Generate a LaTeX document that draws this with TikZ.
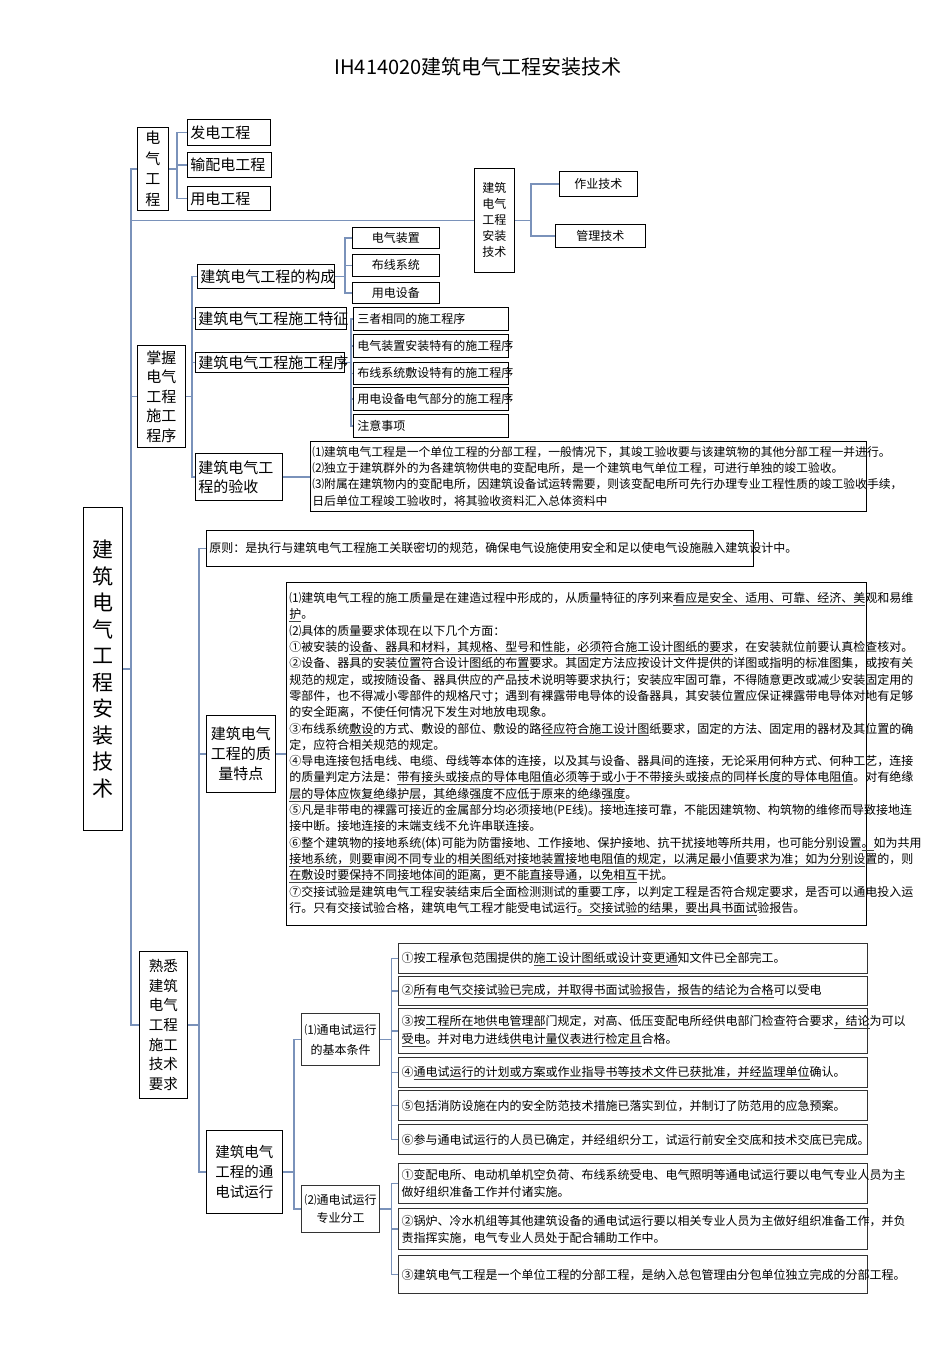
\documentclass[tikz,border=0pt]{standalone}
\usepackage{fontspec}
\setmainfont{Noto Sans CJK SC}
\definecolor{linkblue}{RGB}{122,146,186}
\newsavebox{\ulbox}
\newcommand{\uln}[1]{\leavevmode\sbox{\ulbox}{#1}\rlap{\color{black!75}\rule[-3pt]{\wd\ulbox}{0.6pt}}\usebox{\ulbox}}
\newcommand{\fsz}[2]{\fontsize{#1}{#2}\selectfont}

\begin{document}
\begin{tikzpicture}[x=1pt,y=-1pt]
	\tikzset{every node/.style={inner sep=0pt}}
	\tikzset{box/.style={draw, line width=0.8pt, anchor=north west, inner xsep=3pt, inner ysep=0pt}}
	\tikzset{heavybox/.style={box, draw=black!80, line width=1.3pt}}
	\tikzset{link/.style={draw=linkblue, line width=1.4pt}}
	\useasboundingbox (0,0) rectangle (950,1345);
	\fill[white] (0,0) rectangle (950,1345);

	\node[font=\fsz{20}{24}] (title) at (478,67) {IH414020建筑电气工程安装技术};

	\node[box, inner xsep=0pt, text width=39, minimum height=323, align=center, font=\fsz{21}{26.5}] (root) at (83,507) {建\\筑\\电\\气\\工\\程\\安\\装\\技\\术};

	\node[box, inner xsep=0pt, text width=31, minimum height=83, align=center, font=\fsz{15}{20.5}] (dqgc) at (137,127) {电\\气\\工\\程};
	\node[box, text width=77, minimum height=26, align=left, font=\fsz{15}{18}] (fd) at (187,119) {发电工程};
	\node[box, text width=78, minimum height=25, align=left, font=\fsz{15}{18}] (spd) at (187,152) {输配电工程};
	\node[box, text width=77, minimum height=24, align=left, font=\fsz{15}{18}] (yd) at (187,186) {用电工程};

	\node[box, inner xsep=0pt, text width=40, minimum height=104, align=center, font=\fsz{12}{16}] (azjs) at (474,168) {建筑\\电气\\工程\\安装\\技术};
	\node[box, inner xsep=0pt, text width=78, minimum height=25, align=center, font=\fsz{12}{15}] (zyjs) at (559,171) {作业技术};
	\node[box, inner xsep=0pt, text width=90, minimum height=23, align=center, font=\fsz{12}{15}] (gljs) at (555,224) {管理技术};

	\node[box, inner xsep=0pt, text width=48, minimum height=102, align=center, font=\fsz{15}{19.5}] (zw) at (137,345) {掌握\\电气\\工程\\施工\\程序};
	\node[box, text width=131, minimum height=24, align=left, font=\fsz{15}{18}] (gc) at (197,264) {建筑电气工程的构成};
	\node[box, text width=145, minimum height=22, align=left, font=\fsz{15}{18}] (tz) at (195,307) {建筑电气工程施工特征};
	\node[box, text width=143, minimum height=20, align=left, font=\fsz{15}{18}] (cx) at (195,352) {建筑电气工程施工程序};
	\node[box, text width=81, minimum height=47, align=left, font=\fsz{15}{19}] (ys) at (195,453) {建筑电气工\\程的验收};

	\node[box, inner xsep=0pt, text width=87, minimum height=21, align=center, font=\fsz{12}{15}] (dqzz) at (352,227) {电气装置};
	\node[box, inner xsep=0pt, text width=87, minimum height=22, align=center, font=\fsz{12}{15}] (bxxt) at (352,254) {布线系统};
	\node[box, inner xsep=0pt, text width=87, minimum height=21, align=center, font=\fsz{12}{15}] (ydsb) at (352,282) {用电设备};

	\node[box, inner xsep=4pt, text width=147, minimum height=23, align=left, font=\fsz{12}{15}] (sz) at (353,307) {三者相同的施工程序};
	\node[box, inner xsep=4pt, text width=147, minimum height=23, align=left, font=\fsz{12}{15}] (dqaz) at (353,334) {电气装置安装特有的施工程序};
	\node[box, inner xsep=4pt, text width=147, minimum height=22, align=left, font=\fsz{12}{15}] (bxfs) at (353,362) {布线系统敷设特有的施工程序};
	\node[box, inner xsep=4pt, text width=147, minimum height=23, align=left, font=\fsz{12}{15}] (ydbf) at (353,387) {用电设备电气部分的施工程序};
	\node[box, inner xsep=4pt, text width=147, minimum height=23, align=left, font=\fsz{12}{15}] (zysx) at (353,414) {注意事项};

	\node[box, inner xsep=2pt, text width=552, minimum height=70, align=left, font=\fsz{11.8}{16.3}] (ystext) at (310,441) {⑴建筑电气工程是一个单位工程的分部工程，一般情况下，其竣工验收要与该建筑物的其他分部工程一并进行。\\⑵独立于建筑群外的为各建筑物供电的变配电所，是一个建筑电气单位工程，可进行单独的竣工验收。\\⑶附属在建筑物内的变配电所，因建筑设备试运转需要，则该变配电所可先行办理专业工程性质的竣工验收手续，\\日后单位工程竣工验收时，将其验收资料汇入总体资料中};

	\node[box, inner xsep=0pt, text width=48, minimum height=147, align=center, font=\fsz{14.5}{19.7}] (sx) at (139,951) {熟悉\\建筑\\电气\\工程\\施工\\技术\\要求};

	\node[box, text width=541, minimum height=36, align=left, font=\fsz{12}{15}] (yz) at (206,530) {原则：是执行与建筑电气工程施工关联密切的规范，确保电气设施使用安全和足以使电气设施融入建筑设计中。};

	\node[box, inner xsep=0pt, text width=69, minimum height=77, align=center, font=\fsz{15}{20}] (zltd) at (206,715) {建筑电气\\工程的质\\量特点};
	\node[box, text width=574, minimum height=343, align=left, font=\fsz{12}{16.3}] (zltext) at (286,582) {⑴建筑电气工程的施工质量是在建造过程中形成的，从质量特征的序列来\uln{看应是安全、适用、可靠、经济、美}观和易维\\
		\uln{护}。\\
		⑵具体的质量要求体现在以下几个方面：\\
		①被安装的\uln{设备、器具和材料，其规格、型号和性能，必须符合施工设计图纸的要求}，在安装就位前要认真检查核对。\\
		②设备、器具的\uln{安装位置符合设计图纸的布置}要求。其固定方法应按设计文件提供的详图或指明的标准图集，或按有关\\
		规范的规定，或按随设备、器具供应的产品技术说明等要求执行；安装应牢固可靠，不得随意更改或减少安装固定用的\\
		零部件，也不得减小零部件的规格尺寸；遇到有裸露带电导体的设备器具，其安装位置应保证裸露带电导体对地有足够\\
		的安全距离，不使任何情况下发生对地放电现象。\\
		③布线系统\uln{敷设}的方式、敷设的部位、敷设的路\uln{径应符合施工设计图}纸要求，固定的方法、固定用的器材及其位置的确\\
		定，应符合相关规范的规定。\\
		④导电连接包括电线、电缆、母线等本体的连接，以及其与设备、器具间的连接，无论采用何种方式、何种工艺，连接\\
		的质量判定方法是：\uln{带有接头或接点的导体电阻值必须等于或小于不带接头或接点的同样长度的导体电阻值}。对有绝缘\\
		\uln{层的导体应恢复绝缘护层，其绝缘强度不应低于原来的绝缘强度}。\\
		⑤凡是非带电的裸露可接近的金属部分均必须接地(PE线)。接地连接可靠，不能因建筑物、构筑物的维修而导致接地连\\
		接中断。接地连接的末端支线不允许串联连接。\\
		⑥整个建筑物的接地系统(体)可能为防雷接地、工作接地、保护接地、抗干扰接地等所共用，也可能分别设置\uln{。}如为共用\\
		\uln{接地系统，则要审阅不同专业的相关图纸对接地装置接地电阻值的规定，以满足最小值要求为准；如为分别设}置的，则\\
		\uln{在敷设时要保持不同接地体间的距离，更不能直接导通，以免相互}干扰。\\
		⑦交接试验是建筑电气工程安装结束后全面检测测试的重要工序，以判定工程是否符合规定要求，是否可以通电投入运\\
		行。只有交接试验合格，建筑电气工程才能受电试运行\uln{。交接试验的结果，要出具书面试}验报告。};

	\node[box, inner xsep=0pt, text width=76, minimum height=83, align=center, font=\fsz{14.5}{20}] (tdsy) at (206,1130) {建筑电气\\工程的通\\电试运行};
	\node[heavybox, inner xsep=0pt, text width=78, minimum height=52, align=center, font=\fsz{12}{20}] (jbtj) at (301,1013) {⑴通电试运行\\的基本条件};
	\node[heavybox, inner xsep=0pt, text width=78, minimum height=47, align=center, font=\fsz{12}{18}] (zyfg) at (301,1185) {⑵通电试运行\\专业分工};

	\node[heavybox, text width=463, minimum height=30, align=left, font=\fsz{12}{18}] (tj1) at (398,943) {①按工程承包范围提供的\uln{施工设计图纸或设计变更通}知文件已全部完工。};
	\node[heavybox, text width=463, minimum height=29, align=left, font=\fsz{12}{18}] (tj2) at (398,976) {②\uln{所有电气交接试验已完成，并取得书面试验报告，报告的结论为合格}可以受电};
	\node[heavybox, text width=463, minimum height=45, align=left, font=\fsz{12}{18}] (tj3) at (398,1008) {③按\uln{工程所在地供电管理部}门规定，对高、低压变配电所经供电部门检查符合要求\uln{，结论}为可以\\\uln{受电}。并对电力进线\uln{供电计量仪表进行检定且}合格。};
	\node[heavybox, text width=463, minimum height=30, align=left, font=\fsz{12}{18}] (tj4) at (398,1057) {④\uln{通电试运行的计划或方案或作业指导书等技术文件已获批准，并经监理单位}确认。};
	\node[heavybox, text width=463, minimum height=30, align=left, font=\fsz{12}{18}] (tj5) at (398,1090) {⑤包括消防设施在内的安全防范技术措施已落实到位，并制订了防范用的应急预案。};
	\node[heavybox, text width=463, minimum height=30, align=left, font=\fsz{12}{18}] (tj6) at (398,1124) {⑥参与通电试运行的人员已确定，并经组织分工，试运行前安全交底和技术交底已完成。};

	\node[heavybox, text width=463, minimum height=40, align=left, font=\fsz{12}{17}] (fg1) at (398,1163) {①变配电所、电动机单机空负荷、布线系统受电、电气照明等通电试运行要以电气专业人员为主\\做好组织准备工作并付诸实施。};
	\node[heavybox, text width=463, minimum height=41, align=left, font=\fsz{12}{17}] (fg2) at (398,1208) {②锅炉、冷水机组等其他建筑设备的通电试运行要以相关专业人员为主做好组织准备工作，并负\\责指挥实施，电气专业人员处于配合辅助工作中。};
	\node[heavybox, text width=463, minimum height=38, align=left, font=\fsz{12}{17}] (fg3) at (398,1255) {③建筑电气工程是一个单位工程的分部工程，是纳入总包管理由分包单位独立完成的分部工程。};

	\draw[link] (root.east) -- ++(8,0) coordinate (rb);
	\foreach \c in {dqgc,azjs,zw,sx} \draw[link] (rb) |- (\c.west);
	\draw[link] (dqgc.east) -- ++(8,0) coordinate (db);
	\foreach \c in {fd,spd,yd} \draw[link] (db) |- (\c.west);
	\draw[link] (azjs.east) -- ++(16,0) coordinate (ab);
	\foreach \c in {zyjs,gljs} \draw[link] (ab) |- (\c.west);
	\draw[link] (zw.east) -- ++(6,0) coordinate (zb);
	\foreach \c in {gc,tz,cx,ys} \draw[link] (zb) |- (\c.west);
	\draw[link] (gc.east) -- ++(10,0) coordinate (gb);
	\foreach \c in {dqzz,bxxt,ydsb} \draw[link] (gb) |- (\c.west);
	\draw[link] (cx.east) -- ++(6,0) coordinate (cb);
	\foreach \c in {sz,dqaz,bxfs,ydbf,zysx} \draw[link] (cb) |- (\c.west);
	\draw[link] (ys.east) -- (ys.east -| ystext.west);
	\draw[link] (sx.east) -- ++(11,0) coordinate (sb);
	\foreach \c in {yz,zltd,tdsy} \draw[link] (sb) |- (\c.west);
	\draw[link] (zltd.east) -- (zltd.east -| zltext.west);
	\draw[link] (tdsy.east) -- ++(11,0) coordinate (tb);
	\foreach \c in {jbtj,zyfg} \draw[link] (tb) |- (\c.west);
	\draw[link] (jbtj.east) -- ++(11,0) coordinate (jb);
	\foreach \c in {tj1,tj2,tj3,tj4,tj5,tj6} \draw[link] (jb) |- (\c.west);
	\draw[link] (zyfg.east) -- ++(11,0) coordinate (fb);
	\foreach \c in {fg1,fg2,fg3} \draw[link] (fb) |- (\c.west);
\end{tikzpicture}
\end{document}
